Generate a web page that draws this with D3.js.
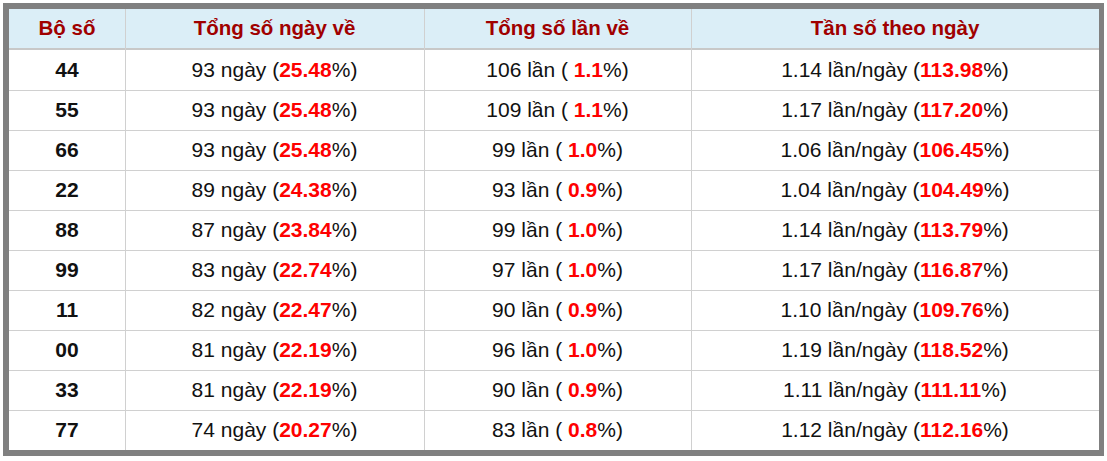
<!DOCTYPE html>
<html><head><meta charset="utf-8">
<script src="https://cdn.jsdelivr.net/npm/d3@7"></script>
<style>body{margin:0;background:#fff}svg{display:block;font-family:Arial,"Liberation Sans",sans-serif}</style>
</head><body><svg id="c" width="1107" height="461"></svg>
<script>
const headers = ["Bộ số","Tổng số ngày về","Tổng số lần về","Tần số theo ngày"];
const boSo = ["44","55","66","22","88","99","11","00","33","77"];
const ngay = [93,93,93,89,87,83,82,81,81,74];
const ngayPct = ["25.48","25.48","25.48","24.38","23.84","22.74","22.47","22.19","22.19","20.27"];
const lan = [106,109,99,93,99,97,90,96,90,83];
const lanPct = ["1.1","1.1","1.0","0.9","1.0","1.0","0.9","1.0","0.9","0.8"];
const tanSo = ["1.14","1.17","1.06","1.04","1.14","1.17","1.10","1.19","1.11","1.12"];
const tanSoPct = ["113.98","117.20","106.45","104.49","113.79","116.87","109.76","118.52","111.11","112.16"];

const svg = d3.select("#c");
const L=9, R=1099, T=9, B=450, headB=48, bodyT=50;
svg.append("rect").attr("x",3).attr("y",3).attr("width",1101).attr("height",453).attr("fill","#808080");
svg.append("rect").attr("x",L).attr("y",T).attr("width",R-L).attr("height",B-T).attr("fill","#fff");
const colEdges=[L,125,424,691,R];
const y = d3.scaleBand().domain(d3.range(boSo.length)).range([bodyT,B]);
svg.append("rect").attr("x",L).attr("y",T).attr("width",R-L).attr("height",headB-T).attr("fill","#dbeef7");
svg.append("rect").attr("x",L).attr("y",headB).attr("width",R-L).attr("height",bodyT-headB).attr("fill","#c8c8c8");
d3.range(1,boSo.length).forEach(i=>{
  svg.append("line").attr("x1",L).attr("x2",R).attr("y1",y(i)+0.5).attr("y2",y(i)+0.5).attr("stroke","#d0d0d0");
});
colEdges.slice(1,4).forEach(x=>{
  svg.append("line").attr("x1",x+0.5).attr("x2",x+0.5).attr("y1",T).attr("y2",B).attr("stroke","#d0d0d0");
});
const cx=i=>(colEdges[i]+colEdges[i+1])/2;
headers.forEach((h,i)=>{
  svg.append("text").attr("x",cx(i)).attr("y",(T+headB)/2+1).attr("text-anchor","middle").attr("dominant-baseline","middle")
   .attr("font-size",20.5).attr("font-weight","bold").attr("fill","#a00000").text(h);
});
function cell(col,row,parts){
  const t=svg.append("text").attr("x",cx(col)).attr("y",y(row)+y.bandwidth()/2+1).attr("text-anchor","middle")
    .attr("dominant-baseline","middle").attr("font-size",21).attr("fill","#111");
  parts.forEach(p=>{const s=t.append("tspan").text(p[0]); if(p[1]) s.attr("fill","#f00").attr("font-weight","bold"); if(p[2]) s.attr("font-weight","bold");});
}
boSo.forEach((b,i)=>{
  cell(0,i,[[b,false,true]]);
  cell(1,i,[[ngay[i]+" ngày ("],[ngayPct[i],true],["%)"]]);
  cell(2,i,[[lan[i]+" lần ( "],[lanPct[i],true],["%)"]]);
  cell(3,i,[[tanSo[i]+" lần/ngày ("],[tanSoPct[i],true],["%)"]]);
});
</script></body></html>
